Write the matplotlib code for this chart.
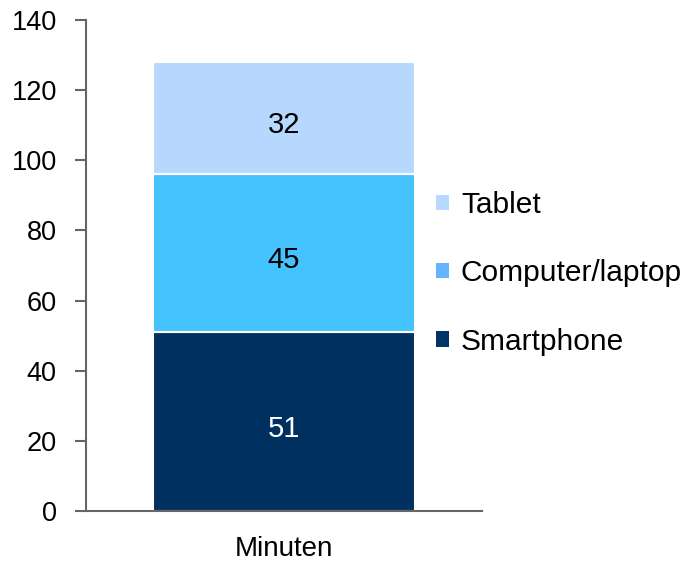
import matplotlib.pyplot as plt
from matplotlib.patches import Patch

plt.rcParams["font.family"] = ["Liberation Sans", "DejaVu Sans"]

category = ["Minuten"]
series = ["Smartphone", "Computer/laptop", "Tablet"]
values = [51, 45, 32]
bar_colors = ["#00305f", "#45c3ff", "#b6d8ff"]
legend_colors = ["#003366", "#66b3ff", "#b8d8ff"]
label_colors = ["white", "black", "black"]
yticks = [0, 20, 40, 60, 80, 100, 120, 140]

fig = plt.figure(figsize=(6.83, 5.61), dpi=100)
ax = fig.add_axes([0.1259, 0.0891, 0.5798, 0.8752])

bottom = 0
for name, val, col, lc in zip(series, values, bar_colors, label_colors):
    ax.bar(category, [val], bottom=bottom, width=0.664, color=col,
           edgecolor="white", linewidth=1.5)
    ax.annotate(str(val), (0, bottom + val / 2), xytext=(0, -3),
                textcoords="offset points", ha="center", va="center_baseline",
                fontsize=21, color=lc)
    bottom += val

ax.set_xlim(-0.5, 0.5)
ax.set_ylim(0, 140)
ax.set_yticks(yticks)
for side in ("top", "right"):
    ax.spines[side].set_visible(False)
for side in ("left", "bottom"):
    ax.spines[side].set_color("#666666")
    ax.spines[side].set_linewidth(1.5)
ax.tick_params(axis="y", direction="out", length=8, width=1.5, color="#666666",
               labelsize=19.5, pad=13)
ax.tick_params(axis="x", length=0, labelsize=20, pad=18)

handles = [Patch(facecolor=c, edgecolor="none") for c in legend_colors]
leg = fig.legend(handles[::-1], series[::-1], loc="center left",
                 bbox_to_anchor=(0.639, 0.513), frameon=False, fontsize=21.5,
                 handlelength=0.42, handleheight=0.42, handletextpad=0.4,
                 labelspacing=1.35, borderpad=0, borderaxespad=0)

fig.savefig("out.png", dpi=100)
